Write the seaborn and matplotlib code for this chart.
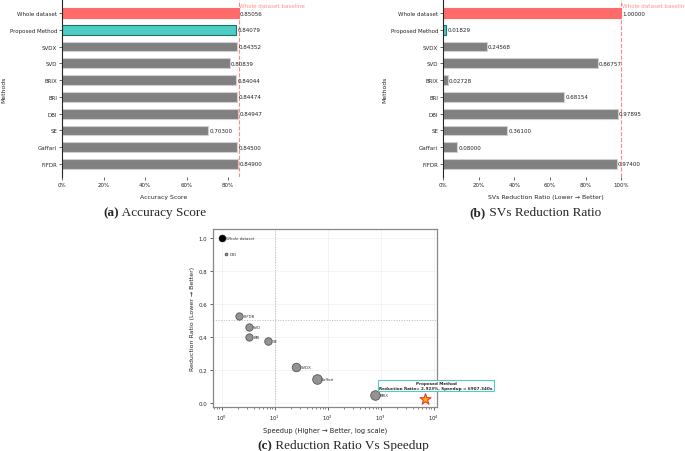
import numpy as np
import pandas as pd
import matplotlib
matplotlib.use("Agg")
import matplotlib.pyplot as plt
import seaborn as sns

# data
methods = ["Whole dataset", "Proposed Method", "SVDX", "SVD", "BRIX",
           "BRI", "DBI", "SE", "Gaffari", "FIFDR"]
accuracy = [0.85056, 0.84079, 0.84352, 0.80839, 0.84044,
            0.84474, 0.84947, 0.70300, 0.84500, 0.84900]
sv_ratio = [1.00000, 0.01829, 0.24568, 0.86757, 0.02728,
            0.68154, 0.97895, 0.36100, 0.08000, 0.97400]

sc_names = ["Whole dataset", "DBI", "FIFDR", "SVD", "BRI", "SE",
            "SVDX", "Gaffari", "BRIX"]
sc_speedup = [1.0, 1.19, 2.14, 3.2, 3.3, 7.56, 25.2, 61.4, 790.0]
sc_ratio = [1.0, 0.90, 0.525, 0.459, 0.399, 0.374, 0.221, 0.147, 0.048]
sc_size = [22, 4, 28, 28, 28, 30, 38, 48, 48]
prop_speedup = 6907.34
prop_ratio = 0.02923

RED = "#FF6B6B"
TEAL = "#4ECDC4"
GRAY = "#808080"

sns.set_style("ticks")
plt.rcParams["font.family"] = ["DejaVu Sans"]

W, H = 685, 452
fig = plt.figure(figsize=(W / 100, H / 100), dpi=100)


def px_axes(l, t, r, b):
    return fig.add_axes([l / W, 1 - b / H, (r - l) / W, (b - t) / H])


def bar_panel(ax, vals, xlabel):
    df = pd.DataFrame({"Methods": methods, "v": vals})
    colors = [RED, TEAL] + [GRAY] * (len(methods) - 2)
    sns.barplot(data=df, y="Methods", x="v", hue="Methods", palette=colors,
                orient="h", width=0.58, legend=False, ax=ax,
                edgecolor="#d0d0d0", linewidth=0.8, saturation=1)
    ax.patches[1].set_edgecolor("#1f6f6a")
    ax.patches[0].set_edgecolor(RED)
    n = len(methods)
    ax.set_ylim(n - 1 + 0.78, -0.78)
    base = vals[0]
    ax.set_xlim(0, max(vals) * 1.15)
    ax.axvline(base, color=RED, ls="--", lw=0.8, alpha=0.8)
    ax.text(base + 0.003, -0.3, "Whole dataset baseline", color=RED,
            alpha=0.75, fontsize=4.1, va="bottom", clip_on=False)
    for i, v in enumerate(vals):
        ax.text(v + 0.006, i, f"{v:.5f}", va="center", fontsize=4.1,
                color="#222222")
    ax.xaxis.set_major_formatter(plt.FuncFormatter(lambda x, p: f"{x*100:.0f}%"))
    ax.set_xticks([0, 0.2, 0.4, 0.6, 0.8, 1.0][: 6 if max(vals) * 1.15 >= 1 else 5])
    ax.tick_params(labelsize=4.0, length=2, width=0.5, pad=1.5)
    ax.set_xlabel(xlabel, fontsize=4.4, labelpad=5)
    ax.set_ylabel("Methods", fontsize=4.4, labelpad=2.5)
    sns.despine(ax=ax, bottom=True)
    ax.spines["left"].set_linewidth(0.8)


ax1 = px_axes(62, 1, 265, 178)
bar_panel(ax1, accuracy, "Accuracy Score")

ax2 = px_axes(443, 1, 648, 178)
bar_panel(ax2, sv_ratio, "SVs Reduction Ratio (Lower \u2192 Better)")

# scatter panel
ax3 = px_axes(213, 230, 437, 408)
sc_df = pd.DataFrame({"speedup": sc_speedup, "ratio": sc_ratio,
                      "name": sc_names, "s": sc_size})
pt_colors = ["black"] + [GRAY] * (len(sc_names) - 1)
for i, row in sc_df.iterrows():
    sns.scatterplot(x=[row.speedup], y=[row.ratio], s=row.s, color=pt_colors[i],
                    edgecolor="#444444" if i else "black", linewidth=0.6,
                    alpha=0.85 if i else 1, ax=ax3, zorder=3)
    ax3.annotate(row["name"], (row.speedup, row.ratio), xytext=(3, 0),
                 textcoords="offset points", fontsize=2.8, va="center",
                 color="#333333")
ax3.scatter([prop_speedup], [prop_ratio], marker="*", s=70, color="#FFB300",
            edgecolor="#E53935", linewidth=0.8, zorder=4)
ax3.text(11000, 0.108,
         "Proposed Method\nReduction Ratio= 2.923%, Speedup = 6907.340x",
         fontsize=3, fontweight="bold", ha="center", va="center",
         linespacing=1.1, clip_on=False,
         bbox=dict(boxstyle="square,pad=0.35", fc="white", ec=TEAL, lw=0.8))
ax3.set_xscale("log")
ax3.set_xlim(0.68, 11500)
ax3.set_ylim(-0.022, 1.052)
ax3.set_yticks([0, 0.2, 0.4, 0.6, 0.8, 1.0])
ax3.grid(True, color="#eeeeee", lw=0.5)
ax3.axvline(10, color="#bbbbbb", ls=":", lw=0.7)
ax3.axhline(0.5, color="#bbbbbb", ls=":", lw=0.7)
for sp in ax3.spines.values():
    sp.set_color("#888888")
    sp.set_linewidth(0.9)
ax3.tick_params(labelsize=3.9, length=2, width=0.5, pad=2)
ax3.tick_params(which="minor", length=1.2, width=0.4)
ax3.set_xlabel("Speedup (Higher \u2192 Better, log scale)", fontsize=4.9, labelpad=3)
ax3.set_ylabel("Reduction Ratio (Lower \u2192 Better)", fontsize=4.5, labelpad=3)

# captions
serif = ["Liberation Serif", "DejaVu Serif"]


def caption(cx, cy, tag, rest, size=9.5):
    t1 = fig.text(0, 0, tag, fontsize=size, family=serif, fontweight="bold")
    t2 = fig.text(0, 0, rest, fontsize=size, family=serif)
    fig.canvas.draw()
    r = fig.canvas.get_renderer()
    w1 = t1.get_window_extent(r).width
    w2 = t2.get_window_extent(r).width
    x0 = cx - (w1 + w2) / 2
    t1.set_position((x0 / W, 1 - cy / H))
    t2.set_position(((x0 + w1) / W, 1 - cy / H))
    t1.set_va("center")
    t2.set_va("center")


caption(155, 213, "(a)", " Accuracy Score")
caption(535, 213, "(b)", " SVs Reduction Ratio")
caption(343, 446, "(c)", " Reduction Ratio Vs Speedup")

fig.savefig("out.png", dpi=100)
